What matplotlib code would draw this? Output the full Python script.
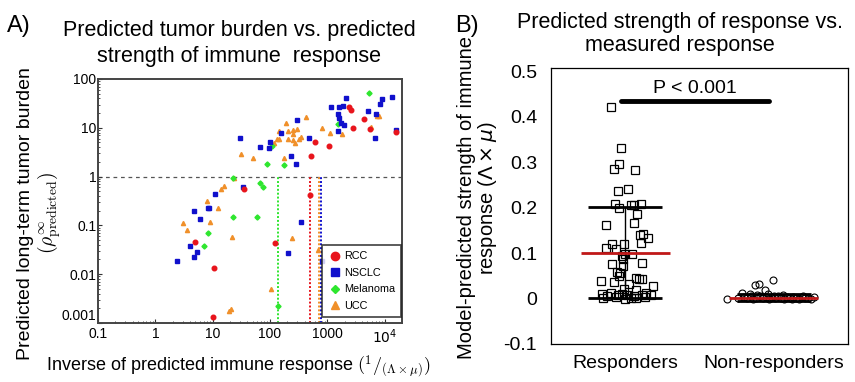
import numpy as np
import matplotlib
matplotlib.use("Agg")
from matplotlib import pyplot as plt
from matplotlib.lines import Line2D

plt.rcParams['font.family'] = ['Liberation Sans', 'DejaVu Sans']

# ---- panel A data: (1/(Lambda*mu), predicted tumor burden) per cancer type
rcc_x = [35, 5, 10.7, 10, 506, 120, 512, 611, 1084, 2383, 2612, 2830, 4345, 5520, 15700]
rcc_y = [0.56, 0.046, 0.0135, 0.00132, 0.41, 0.0435, 2.6, 5.2, 4.3, 27, 23.3, 10.1, 15.0, 9.5, 8.3]

nsclc_x = [30, 65.6, 95, 98, 158, 233, 286, 301, 479, 1159, 1535, 1513, 1597, 1618, 1751,
           1874, 1976, 2113, 5100, 6840, 6920, 8120, 9060, 13500, 15800, 11, 34, 4.7, 5.9,
           8.3, 8.75, 4.1, 5.3, 4.8, 2.37, 348, 207, 794]
nsclc_y = [6.3, 3.96, 3.9, 5.0, 8.0, 2.7, 1.84, 14.4, 6.2, 27, 8.55, 19.6, 27, 15.8, 12.6,
           27.7, 11.4, 40, 21.9, 6.25, 19.0, 30.9, 38.5, 42.3, 9.0, 0.45, 0.605, 0.2, 0.133,
           0.23, 0.225, 0.038, 0.028, 0.023, 0.019, 0.117, 0.027, 0.019]

mel_x = [22.4, 88, 110, 177, 1535, 5370, 23, 8.2, 7, 66, 76, 59, 135]
mel_y = [0.92, 1.82, 4.3, 1.73, 12.1, 51.8, 0.148, 0.069, 0.038, 0.755, 0.6, 0.15, 0.00225]

ucc_x = [31, 50, 24, 115, 131, 142, 146, 174, 188, 207, 207, 249, 249, 253, 270, 297, 317,
         347, 431, 818, 1127, 1820, 5660, 7310, 7920, 16, 13.8, 8, 12.2, 9.1, 3.0, 3.5, 21.4,
         19, 20.8, 243, 697, 105]
ucc_y = [2.85, 2.4, 0.95, 4.9, 5.9, 5.9, 8.7, 2.45, 12.5, 8.7, 5.9, 9.1, 7.4, 5.6, 4.8, 9.4,
         5.9, 6.5, 16.5, 10.1, 8.0, 7.3, 10.6, 17.6, 17.4, 0.645, 0.55, 0.32, 0.23, 0.119,
         0.114, 0.082, 0.059, 0.0018, 0.0019, 0.055, 0.031, 0.0049]

# threshold lines per cancer type
thresholds = {'Melanoma': 135, 'RCC': 500, 'UCC': 700, 'NSCLC': 780}

# ---- panel B data: jitter offset and model-predicted strength
resp_dx = [-0.094, -0.027, -0.042, -0.076, 0.065, -0.049, 0.02, -0.071, -0.045, 0.036, 0.062,
           0.107, 0.078, -0.127, 0.06, 0.098, 0.118, 0.154, 0.107, -0.127, -0.087, -0.007,
           -0.06, -0.02, 0.0, 0.047, -0.016, -0.087, -0.016, 0.114, -0.056, -0.033, -0.04,
           -0.16, -0.074, 0.074, 0.092, 0.114, 0.025, 0.185, -0.009, 0.074, 0.14, -0.154,
           -0.094, -0.05, -0.025, 0.01, 0.06, 0.11, 0.175, -0.15, 0.0, 0.07, -0.06, 0.04,
           -0.12, 0.13]
resp_y = [0.422, 0.330, 0.295, 0.284, 0.282, 0.2365, 0.240, 0.208, 0.200, 0.206, 0.206,
          0.207, 0.185, 0.161, 0.167, 0.140, 0.142, 0.134, 0.123, 0.112, 0.120, 0.119,
          0.108, 0.093, 0.097, 0.097, 0.088, 0.077, 0.071, 0.079, 0.059, 0.057, 0.050,
          0.039, 0.037, 0.046, 0.043, 0.043, 0.031, 0.0265, 0.022, 0.0185, 0.013, 0.011,
          0.013, 0.008, 0.009, 0.008, 0.006, 0.008, 0.008, 0.002, 0.0, 0.001, 0.003, 0.002,
          0.005, 0.004]

nonresp_dx = [-0.313, -0.217, -0.128, -0.102, -0.003, -0.062, -0.16, -0.2, -0.18, -0.15, -0.12,
              -0.09, -0.07, -0.05, -0.03, -0.01, 0.01, 0.03, 0.05, 0.07, 0.09, 0.11, 0.13, 0.15,
              0.17, 0.19, 0.21, 0.23, 0.25, 0.27, -0.24, -0.11, -0.04, 0.0, 0.06, -0.14, 0.12,
              0.2]
nonresp_y = [0.0, 0.013, 0.0295, 0.031, 0.041, 0.0185, 0.009, 0.003, 0.001, 0.005, 0.002,
             0.006, 0.001, 0.004, 0.0, 0.003, 0.001, 0.005, 0.002, 0.0, 0.003, 0.001, 0.004,
             0.002, 0.0, 0.003, 0.001, 0.002, 0.0, 0.003, 0.002, 0.008, 0.009, 0.006, 0.007,
             0.0, 0.0, 0.005]

groups = ['Responders', 'Non-responders']
group_mean = [0.101, 0.002]
group_sd = [0.100, 0.008]

fig = plt.figure(figsize=(8.55, 3.82), dpi=100)

# ================= panel A =================
ax = fig.add_axes([0.1146, 0.1545, 0.3556, 0.6387])
ax.set_xscale('log')
ax.set_yscale('log')
ax.set_xlim(0.1, 2e4)
ax.set_ylim(0.001, 100)

red, blue, green, orange = '#e8141c', '#1010cc', '#2ee62e', '#f0902a'
ax.axhline(1, color='#555555', lw=0.9, ls=(0, (3, 3)), zorder=1)
tcol = {'Melanoma': green, 'RCC': red, 'UCC': orange, 'NSCLC': blue}
for k, v in thresholds.items():
    ax.vlines(v, 0.001, 1, colors=tcol[k], lw=1.4, linestyles=(0, (1, 1)), zorder=1)

ax.plot(ucc_x, ucc_y, '^', color=orange, ms=3, mec=orange, ls='none', zorder=3)
ax.plot(mel_x, mel_y, 'D', color=green, ms=2.6, mec=green, ls='none', zorder=3)
ax.plot(nsclc_x, nsclc_y, 's', color=blue, ms=3, mec=blue, ls='none', zorder=3)
ax.plot(rcc_x, rcc_y, 'o', color=red, ms=3.3, mec=red, ls='none', zorder=3)

ax.set_xticks([0.1, 1, 10, 100, 1000, 1e4])
ax.set_xticklabels(['0.1', '1', '10', '100', '1000', '$10^4$'])
ax.set_yticks([0.001, 0.01, 0.1, 1, 10, 100])
ax.set_yticklabels(['0.001', '0.01', '0.1', '1', '10', '100'])
ax.get_yticklabels()[0].set_va('bottom')
ax.tick_params(which='both', direction='in', labelsize=10, pad=1, colors='#333333',
               labelcolor='black')
ax.tick_params(axis='x', pad=3)
ax.tick_params(which='major', length=3)
ax.tick_params(which='minor', length=1.5)
ax.xaxis.set_minor_locator(matplotlib.ticker.LogLocator(base=10, subs=np.arange(2, 10), numticks=20))
ax.yaxis.set_minor_locator(matplotlib.ticker.LogLocator(base=10, subs=np.arange(2, 10), numticks=20))
ax.xaxis.set_minor_formatter(matplotlib.ticker.NullFormatter())
ax.yaxis.set_minor_formatter(matplotlib.ticker.NullFormatter())
for s in ax.spines.values():
    s.set_color('#444444')
    s.set_linewidth(1.4)

handles = [
    Line2D([], [], marker='o', color=red, ls='none', ms=6),
    Line2D([], [], marker='s', color=blue, ls='none', ms=5.5),
    Line2D([], [], marker='D', color=green, ls='none', ms=4.5),
    Line2D([], [], marker='^', color=orange, ls='none', ms=5.5),
]
leg = ax.legend(handles, ['RCC', 'NSCLC', 'Melanoma', 'UCC'], loc='lower right',
                bbox_to_anchor=(0.997, 0.025), borderaxespad=0, fontsize=7.8,
                fancybox=False, edgecolor='#222222', handletextpad=0.1,
                labelspacing=0.6, borderpad=0.55, handlelength=1.4)
leg.get_frame().set_linewidth(1.3)

ax.set_title('Predicted tumor burden vs. predicted\nstrength of immune  response',
             fontsize=15.5, pad=12, linespacing=1.35, x=0.464)
ax.set_xlabel(r'Inverse of predicted immune response $(^{1}/_{(\Lambda\times\mu)})$',
              fontsize=13, math_fontfamily='cm')
ax.xaxis.set_label_coords(0.46, -0.125)
ax.set_ylabel('Predicted long-term tumor burden\n' + r'$(\rho^{\infty}_{\mathrm{predicted}})$',
              fontsize=14, math_fontfamily='cm', linespacing=1.1)
ax.yaxis.set_label_coords(-0.112, 0.45)
fig.text(0.008, 0.915, 'A)', fontsize=17)

# ================= panel B =================
bx = fig.add_axes([0.6444, 0.0995, 0.3474, 0.7225])
bx.set_xlim(-0.5, 1.5)
bx.set_ylim(-0.1, 0.507)

bx.plot(np.array(resp_dx) + 0, resp_y, 's', mfc='none', mec='black', ms=6, mew=0.9,
        ls='none', zorder=2)
bx.plot(np.array(nonresp_dx) + 1, nonresp_y, 'o', mfc='none', mec='black', ms=5, mew=0.8,
        ls='none', zorder=2)

for i in range(2):
    m, sd = group_mean[i], group_sd[i]
    bx.vlines(i, m - sd, m + sd, color='black', lw=1, zorder=3)
    bx.hlines([m - sd, m + sd], i - 0.25, i + 0.25, color='black', lw=2, zorder=3)
    bx.hlines(m, i - 0.3, i + 0.3, color='#c01818', lw=2, zorder=4)

bx.plot([-0.03, 0.97], [0.435, 0.435], color='black', lw=3.5, solid_capstyle='round')
bx.text(0.47, 0.443, 'P < 0.001', ha='center', va='bottom', fontsize=14)

bx.set_xticks([0, 1])
bx.set_xticklabels(groups)
bx.set_yticks([-0.1, 0, 0.1, 0.2, 0.3, 0.4, 0.5])
bx.set_yticklabels(['-0.1', '0', '0.1', '0.2', '0.3', '0.4', '0.5'])
bx.tick_params(length=0, labelsize=14, pad=10)
bx.tick_params(axis='x', pad=8)
for s in bx.spines.values():
    s.set_linewidth(0.9)

bx.set_title('Predicted strength of response vs.\nmeasured response', fontsize=15.5,
             pad=12, linespacing=1.15, x=0.434)
bx.set_ylabel('Model-predicted strength of immune\n' + r'response ($\Lambda\times\mu$)',
              fontsize=14.5, math_fontfamily='dejavusans', linespacing=1.0)
bx.yaxis.set_label_coords(-0.175, 0.53)
fig.text(0.532, 0.915, 'B)', fontsize=17)

fig.savefig('out.png', dpi=100)
